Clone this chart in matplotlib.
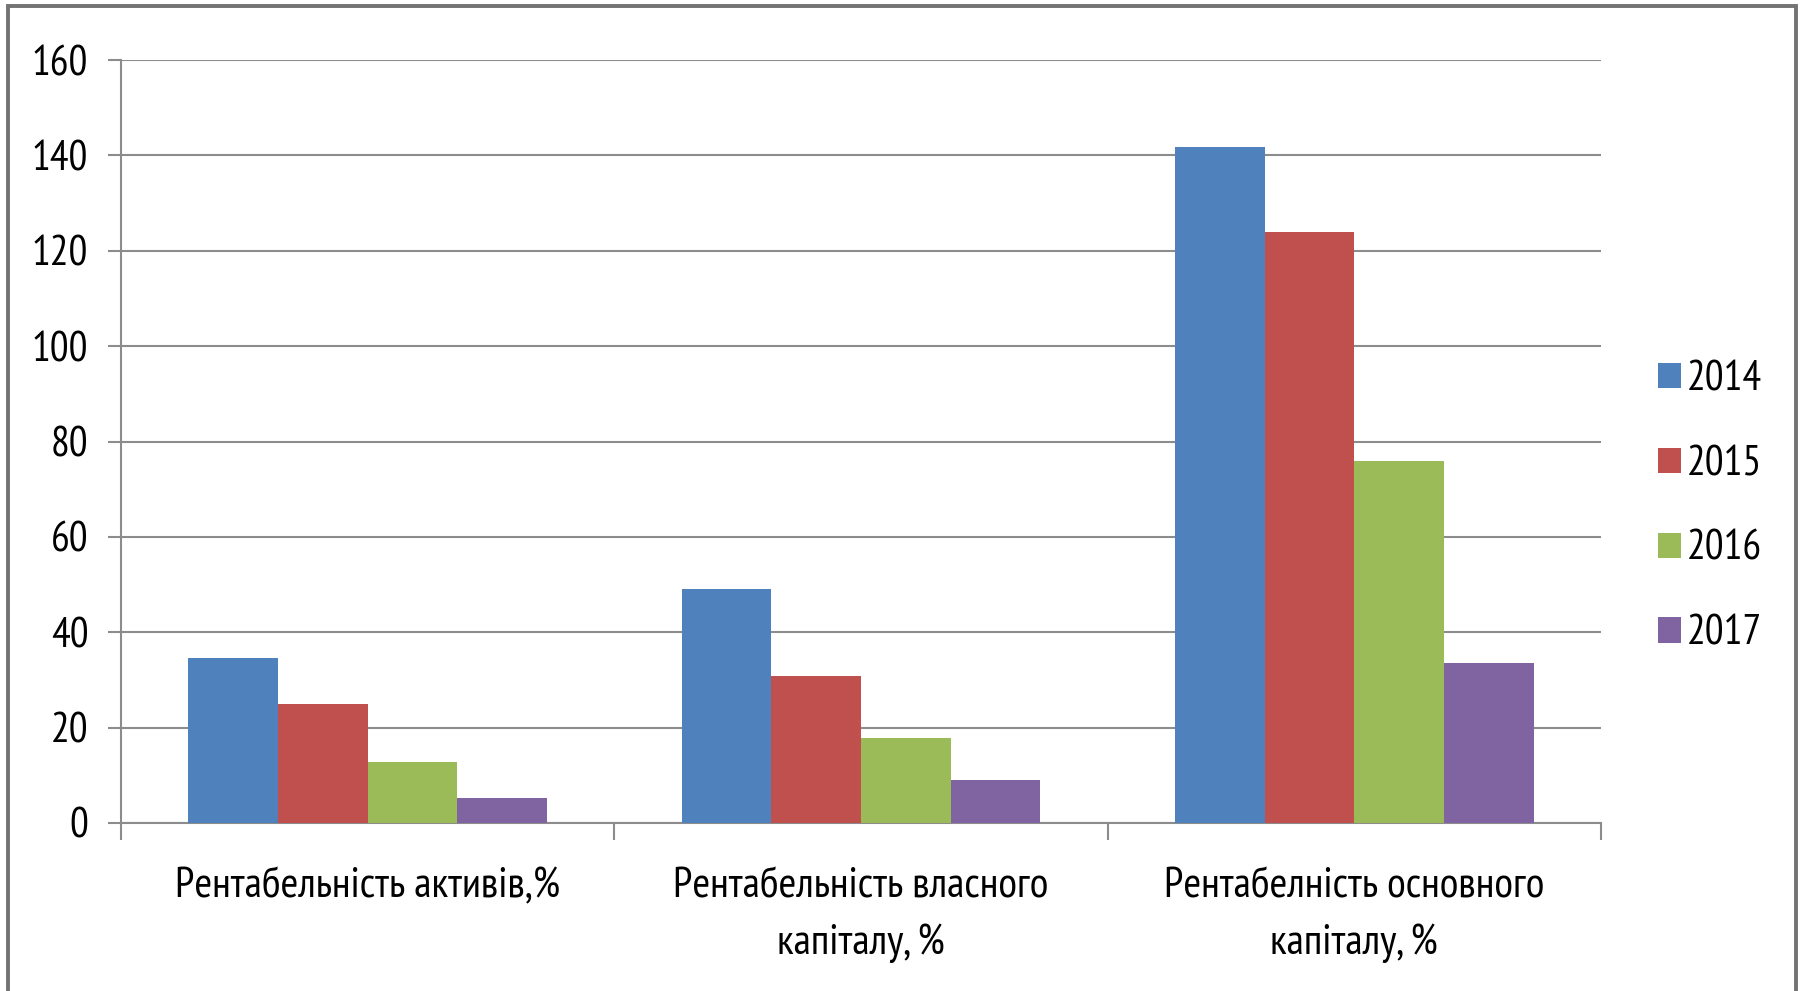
import matplotlib
matplotlib.use("Agg")
import matplotlib.pyplot as plt
from matplotlib.patches import Rectangle
from matplotlib.ticker import FixedLocator
import numpy as np

plt.rcParams['font.family'] = ['PT Sans Narrow', 'DejaVu Sans']

categories = [
    "Рентабельність активів,%",
    "Рентабельність власного\nкапіталу, %",
    "Рентабелність основного\nкапіталу, %",
]
years = ["2014", "2015", "2016", "2017"]
values_2014 = [34.7, 49.0, 141.8]
values_2015 = [24.9, 30.9, 124.0]
values_2016 = [12.8, 17.8, 76.0]
values_2017 = [5.2, 9.0, 33.6]
series = [values_2014, values_2015, values_2016, values_2017]
colors = ["#4F81BD", "#C0504D", "#9BBB59", "#8064A2"]
y_ticks = [0, 20, 40, 60, 80, 100, 120, 140, 160]

W, H = 1803, 991
FS = 30
fig = plt.figure(figsize=(W / 100, H / 100), dpi=100)
fig.patch.set_facecolor("white")

# grey chart-area border
fig.add_artist(Rectangle((8 / W, -0.02), (1796 - 8) / W, 1 - 6 / H + 0.02,
                         transform=fig.transFigure, fill=False,
                         edgecolor="#737373", linewidth=2.8, zorder=10))

ax = fig.add_axes([121 / W, 1 - 823 / H, (1601 - 121) / W, (823 - 60) / H])

n = len(series)
width = 1 / (n + 1.5)
x = np.arange(len(categories))
for i, (vals, col, yr) in enumerate(zip(series, colors, years)):
    offs = (i - (n - 1) / 2) * width
    ax.bar(x + offs, vals, width, color=col, label=yr, zorder=3,
           edgecolor="none")

ax.set_xlim(-0.5, len(categories) - 0.5)
ax.set_ylim(0, 160)
ax.set_yticks(y_ticks)
ax.yaxis.grid(True, color="#8c8c8c", linewidth=1.5, zorder=0)
ax.set_axisbelow(True)

for s in ["top", "right"]:
    ax.spines[s].set_visible(False)
for s in ["left", "bottom"]:
    ax.spines[s].set_color("#8c8c8c")
    ax.spines[s].set_linewidth(1.5)

ax.set_xticks(x)
ax.set_xticklabels(categories, fontsize=31, linespacing=1.55)
ax.xaxis.set_minor_locator(FixedLocator(np.arange(-0.5, len(categories), 1.0)))
ax.tick_params(axis="x", which="major", length=0, pad=32)
ax.tick_params(axis="x", which="minor", length=12, width=1.5, color="#8c8c8c")
ax.tick_params(axis="y", length=9.5, width=1.5, color="#8c8c8c",
               labelsize=FS, pad=14)

leg = fig.legend(loc="center left", bbox_to_anchor=(1658 / W, 1 - 507 / H),
                 frameon=False, fontsize=FS, handlelength=0.55,
                 handleheight=0.55, handletextpad=0.15, labelspacing=1.1,
                 borderpad=0, borderaxespad=0)

fig.savefig("out.png", dpi=100, facecolor="white")
